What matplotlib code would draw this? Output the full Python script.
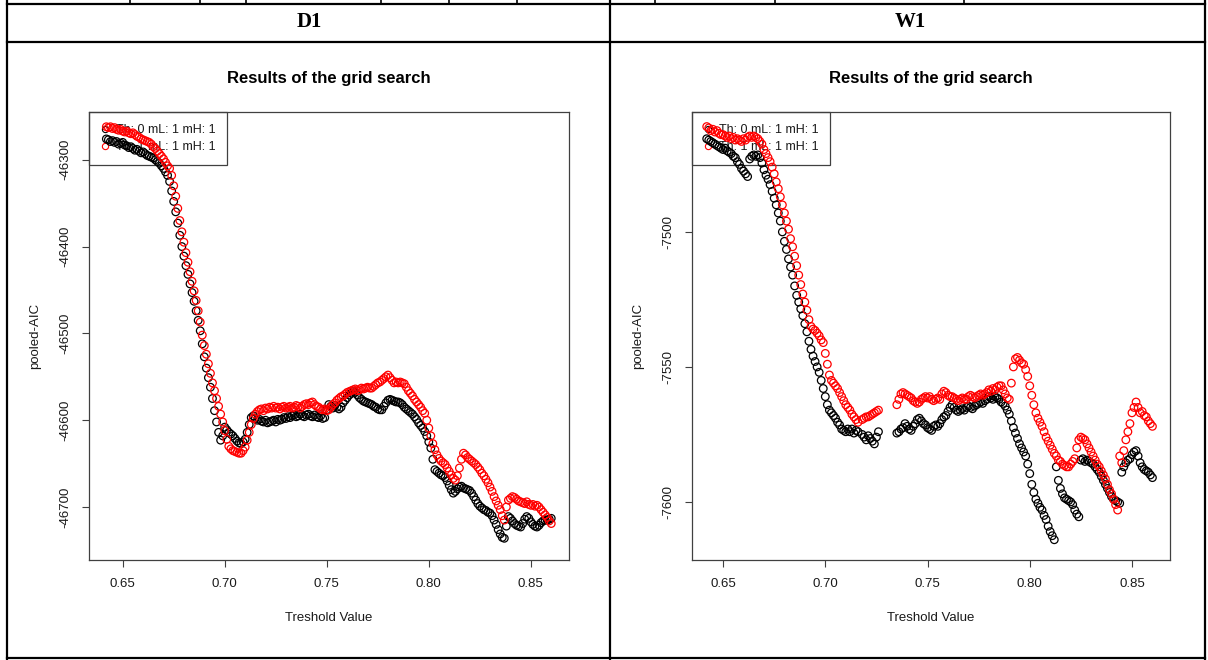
import numpy as np
import matplotlib
matplotlib.use("Agg")
import matplotlib.pyplot as plt
from matplotlib.lines import Line2D

nan = np.nan

# threshold grid of the search: 0.642 ... 0.860, step 0.001
t_start = 0.642
t_step = 0.001

# ---- D1 : pooled-AIC per threshold ----
d1_th0 = [
    -46276, -46277, -46279, -46278, -46280, -46279, -46282, -46281,
    -46280, -46283, -46284, -46286, -46285, -46287, -46289, -46288, -46290, -46292,
    -46291, -46293, -46295, -46296, -46297, -46298, -46300, -46302, -46304, -46307,
    -46310, -46314, -46318, -46325, -46336, -46348, -46360, -46373, -46387, -46400,
    -46411, -46422, -46432, -46443, -46453, -46463, -46474, -46485, -46497, -46512,
    -46527, -46540, -46551, -46562, -46575, -46589, -46602, -46614, -46623, -46618,
    -46608, -46611, -46614, -46616, -46618, -46621, -46624, -46626, -46627, -46625,
    -46622, -46614, -46605, -46597, -46595, -46598, -46600, -46599, -46601, -46602,
    -46600, -46603, -46602, -46601, -46600, -46602, -46599, -46600, -46599, -46597,
    -46598, -46596, -46597, -46595, -46594, -46596, -46595, -46593, -46595, -46596,
    -46594, -46593, -46595, -46596, -46594, -46596, -46597, -46595, -46598, -46597,
    -46588, -46582, -46584, -46586, -46583, -46585, -46587, -46585, -46580, -46577,
    -46574, -46571, -46569, -46567, -46568, -46571, -46574, -46576, -46578, -46579,
    -46580, -46581, -46582, -46584, -46585, -46587, -46588, -46588, -46584, -46580,
    -46577, -46576, -46577, -46578, -46579, -46579, -46580, -46582, -46585, -46587,
    -46589, -46591, -46593, -46596, -46599, -46603, -46606, -46609, -46613, -46618,
    -46625, -46632, -46645, -46657, -46659, -46661, -46663, -46664, -46666, -46670,
    -46675, -46680, -46684, -46682, -46679, -46677, -46676, -46678, -46679, -46680,
    -46681, -46684, -46688, -46692, -46696, -46699, -46701, -46703, -46704, -46706,
    -46707, -46710, -46715, -46720, -46726, -46731, -46735, -46736, -46722, -46711,
    -46713, -46716, -46719, -46721, -46722, -46723, -46719, -46714, -46711, -46713,
    -46717, -46720, -46722, -46723, -46721, -46718, -46716, -46715, -46715, -46714,
    -46713,
]

d1_th1 = [
    -46262, -46263, -46262, -46264, -46263, -46265, -46266, -46265,
    -46267, -46268, -46267, -46269, -46270, -46269, -46271, -46273, -46274, -46276,
    -46277, -46278, -46279, -46280, -46282, -46285, -46287, -46290, -46293, -46296,
    -46299, -46303, -46307, -46310, -46318, -46330, -46342, -46356, -46370, -46383,
    -46395, -46407, -46418, -46429, -46440, -46451, -46462, -46474, -46487, -46502,
    -46514, -46524, -46535, -46546, -46557, -46566, -46575, -46584, -46593, -46602,
    -46612, -46622, -46630, -46633, -46635, -46636, -46637, -46638, -46638, -46635,
    -46631, -46623, -46614, -46605, -46598, -46593, -46590, -46588, -46587, -46589,
    -46586, -46587, -46585, -46586, -46584, -46586, -46585, -46587, -46585, -46584,
    -46586, -46585, -46584, -46586, -46585, -46583, -46584, -46586, -46584, -46582,
    -46581, -46582, -46580, -46579, -46582, -46584, -46585, -46587, -46588, -46587,
    -46589, -46588, -46585, -46582, -46580, -46577, -46575, -46573, -46572, -46570,
    -46568, -46567, -46566, -46565, -46564, -46566, -46565, -46563, -46564, -46563,
    -46562, -46563, -46563, -46561, -46559, -46557, -46556, -46554, -46552, -46550,
    -46548, -46551, -46554, -46557, -46556, -46557, -46556, -46557, -46558, -46562,
    -46566, -46569, -46572, -46576, -46579, -46582, -46585, -46589, -46592, -46600,
    -46609, -46618, -46627, -46634, -46640, -46644, -46647, -46649, -46651, -46655,
    -46659, -46663, -46667, -46669, -46664, -46655, -46645, -46638, -46640, -46643,
    -46645, -46647, -46649, -46651, -46654, -46657, -46661, -46664, -46668, -46672,
    -46677, -46682, -46688, -46693, -46698, -46703, -46710, -46715, -46700, -46692,
    -46690, -46688, -46689, -46691, -46693, -46694, -46695, -46696, -46694, -46697,
    -46698, -46697, -46699, -46698, -46700, -46703, -46706, -46709, -46712, -46716,
    -46719,
]

# ---- W1 : pooled-AIC per threshold (nan = no result) ----
w1_th0 = [
    -7465.5, -7466, -7466.5, -7467, -7467.5, -7468, -7468.5, -7469,
    -7469.5, -7469, -7470, -7470.5, -7471, -7472, -7472.5, -7474, -7475, -7476.5,
    -7477.5, -7478.5, -7479.5, -7473, -7472, -7471.5, -7472, -7471.5, -7472.5, -7474.5,
    -7477, -7479, -7480.5, -7482.5, -7485, -7487.5, -7490, -7493, -7496, -7500,
    -7503.5, -7506.5, -7510, -7513, -7516, -7520, -7523.5, -7526, -7528.5, -7531,
    -7534, -7537, -7540.5, -7543.5, -7546, -7548, -7550, -7552, -7555, -7558,
    -7561, -7564, -7566, -7567, -7568, -7569, -7570.5, -7571.5, -7573, -7573.5,
    -7574, -7573, -7574, -7573, -7574.5, -7573.5, -7574, nan, -7575, -7576,
    -7577, -7575.5, -7576.5, -7577.5, -7578.5, -7576, -7574, nan, nan, nan,
    nan, nan, nan, nan, nan, -7574.5, -7574, -7573, -7572.5, -7571,
    -7572, -7573, -7573.5, -7572, -7571, -7569.5, -7569, -7570, -7571, -7571.5,
    -7572.5, -7573, -7573.5, -7572, -7571.5, -7572, -7571, -7569.5, -7568.5, -7568,
    -7566.5, -7565, -7564, -7565, -7566, -7566.5, -7566, -7565.5, -7566, -7565,
    -7564.5, -7565, -7565.5, -7564.5, -7564, -7563.5, -7563, -7563.5, -7562.5, -7562,
    -7561, -7561.5, -7562, -7561, -7561.5, -7562, -7563, -7563.5, -7564.5, -7566,
    -7567.5, -7570, -7572.5, -7574.5, -7576.5, -7578.5, -7580, -7581.5, -7583, -7586,
    -7589.5, -7593.5, -7596.5, -7599, -7600.5, -7602, -7603, -7605, -7606.5, -7609,
    -7611, -7612.5, -7614, -7587, -7592, -7595, -7597, -7598.5, -7599, -7599.5,
    -7600, -7601, -7603, -7604.5, -7605.5, -7584.5, -7584, -7585, -7584.5, -7585,
    -7585.5, -7586, -7587, -7588, -7589, -7590.5, -7592, -7593.5, -7595, -7596.5,
    -7598, -7599, -7599.5, -7600, -7600.5, -7589, -7587, -7585.5, -7584.5, -7584,
    -7582.5, -7581.5, -7581, -7583, -7585.5, -7587, -7588, -7588.5, -7589, -7590,
    -7591,
]

w1_th1 = [
    -7461, -7461.5, -7462.5, -7462, -7463, -7462.5, -7463.5, -7464,
    -7464, -7464.5, -7465, -7464.5, -7465.5, -7465, -7466, -7465.5, -7466, -7466.5,
    -7465.5, -7466, -7465, -7464.5, -7465, -7464.5, -7465, -7465.5, -7466.5, -7467.5,
    -7469.5, -7471, -7472.5, -7474, -7476, -7478.5, -7481.5, -7484, -7487, -7490,
    -7493, -7496, -7499, -7502.5, -7505.5, -7509, -7512.5, -7516, -7519.5, -7523,
    -7526, -7529, -7532.5, -7535, -7536, -7536.5, -7537.5, -7538.5, -7540, -7541,
    -7545, -7549, -7553, -7555, -7556, -7557, -7558, -7559.5, -7561, -7562.5,
    -7564, -7565, -7566, -7567.5, -7568.5, -7569.5, -7570.5, nan, -7569.5, -7569,
    -7568.5, -7568.5, -7568, -7567.5, -7567, -7566.5, -7566, nan, nan, nan,
    nan, nan, nan, nan, nan, -7564, -7562, -7560, -7559.5, -7560,
    -7560.5, -7561, -7561.5, -7562.5, -7563, -7563.5, -7563, -7562, -7561.5, -7561,
    -7561.5, -7561, -7562, -7562.5, -7562, -7561.5, -7562, -7560, -7559, -7559.5,
    -7560.5, -7561, -7561, -7561.5, -7562, -7562.5, -7562, -7561.5, -7562, -7562,
    -7561, -7560.5, -7561, -7561.5, -7561, -7560.5, -7560, -7560.5, -7560, -7559.5,
    -7558.5, -7559, -7558, -7558.5, -7557.5, -7557, -7557, -7558.5, -7560, -7561.5,
    -7562, -7556, -7550, -7547, -7546.5, -7547.5, -7548.5, -7549, -7551, -7553.5,
    -7557, -7560.5, -7564, -7567, -7569, -7570.5, -7572, -7574, -7576, -7577.5,
    -7579, -7580.5, -7582, -7583, -7584.5, -7585, -7586, -7586.5, -7587, -7587,
    -7586, -7585, -7584, -7580, -7577, -7576, -7576.5, -7577, -7578.5, -7580,
    -7581.5, -7583, -7584.5, -7586, -7587, -7588.5, -7590, -7591.5, -7593.5, -7595.5,
    -7597, -7599, -7601, -7603, -7583, -7585.5, -7581, -7577, -7574, -7571,
    -7567, -7565, -7563, -7565, -7567, -7566.5, -7568, -7568.5, -7570, -7571,
    -7572,
]

x_ticks = [0.65, 0.70, 0.75, 0.80, 0.85]
d1_yticks = [-46700, -46600, -46500, -46400, -46300]
w1_yticks = [-7600, -7550, -7500]
legend_labels = ["Th: 0 mL: 1 mH: 1", "Th: 1 mL: 1 mH: 1"]
top_row_cols = [130, 200, 246, 381, 449, 517, 655, 775, 964]

plt.rcParams['font.family'] = ['Liberation Sans', 'DejaVu Sans']

W, H = 1208, 660
fig = plt.figure(figsize=(W / 100, H / 100), dpi=100)


def fx(px):
    return px / W


def fy(py):
    return 1 - py / H


def hline(y, x0, x1, lw=1.6):
    fig.add_artist(Line2D([fx(x0), fx(x1)], [fy(y), fy(y)], lw=lw, color='black',
                          transform=fig.transFigure))


def vline(x, y0, y1, lw=1.6):
    fig.add_artist(Line2D([fx(x), fx(x)], [fy(y0), fy(y1)], lw=lw, color='black',
                          transform=fig.transFigure))


# table grid around the two plots
hline(4, 7, 1205)
hline(42, 7, 1205)
hline(658, 7, 1205)
for x in [7, 610, 1205]:
    vline(x, 0, 660)
for x in top_row_cols:
    vline(x, 0, 4, lw=1.2)

fig.text(fx(309), fy(22), "D1", ha='center', va='center', fontsize=15,
         fontweight='bold', family=['Liberation Serif', 'DejaVu Serif'])
fig.text(fx(910), fy(22), "W1", ha='center', va='center', fontsize=15,
         fontweight='bold', family=['Liberation Serif', 'DejaVu Serif'])


def draw_panel(left, right, th0, th1, xlim, ylim, yticks):
    top, bottom = 112, 560
    ax = fig.add_axes([fx(left), fy(bottom), (right - left) / W, (bottom - top) / H])
    x0 = np.round(t_start + t_step * np.arange(len(th0)), 3)
    x1 = np.round(t_start + t_step * np.arange(len(th1)), 3)
    ax.scatter(x0, th0, s=30, facecolors='none', edgecolors='black', linewidths=0.9, zorder=3)
    ax.scatter(x1, th1, s=30, facecolors='none', edgecolors='#ff0000', linewidths=0.9, zorder=4)
    ax.set_xlim(*xlim)
    ax.set_ylim(*ylim)
    ax.set_xticks(x_ticks)
    ax.set_xticklabels([f"{v:.2f}" for v in x_ticks])
    ax.set_yticks(yticks)
    ax.set_yticklabels([str(v) for v in yticks])
    for s in ax.spines.values():
        s.set_color('#404040')
        s.set_linewidth(0.9)
    ax.tick_params(axis='both', direction='out', length=5, width=0.8, color='#404040',
                   labelsize=9.5, labelcolor='#1a1a1a')
    ax.tick_params(axis='x', pad=8)
    ax.tick_params(axis='y', pad=8, labelrotation=90)
    for lab in ax.get_yticklabels():
        lab.set_va('center')

    handles = [Line2D([], [], ls='none', marker='o', mfc='none', mec='black', ms=4.5, mew=0.8),
               Line2D([], [], ls='none', marker='o', mfc='none', mec='#ff0000', ms=4.5, mew=0.8)]
    leg = ax.legend(handles, legend_labels, loc='upper left', borderaxespad=0,
                    fancybox=False, edgecolor='#404040', framealpha=1, fontsize=9,
                    handlelength=0.6, handletextpad=0.6, borderpad=0.95, labelspacing=0.45)
    leg.get_frame().set_linewidth(0.9)
    leg.set_zorder(2)
    for txt in leg.get_texts():
        txt.set_color('#1a1a1a')

    cx = (left + right) / 2
    fig.text(fx(cx), fy(78), "Results of the grid search", ha='center', va='center',
             fontsize=12, fontweight='bold')
    fig.text(fx(cx), fy(618), "Treshold Value", ha='center', va='center', fontsize=9.5,
             color='#1a1a1a')
    fig.text(fx(left - 54), fy((top + bottom) / 2), "pooled-AIC", ha='center', va='center',
             rotation=90, fontsize=9.5, color='#1a1a1a')
    return ax


draw_panel(89, 569, d1_th0, d1_th1, (0.6335, 0.8687), (-46761, -46245), d1_yticks)
draw_panel(692, 1170, w1_th0, w1_th1, (0.6348, 0.8686), (-7621.5, -7455.6), w1_yticks)

fig.savefig("out.png", dpi=100)
